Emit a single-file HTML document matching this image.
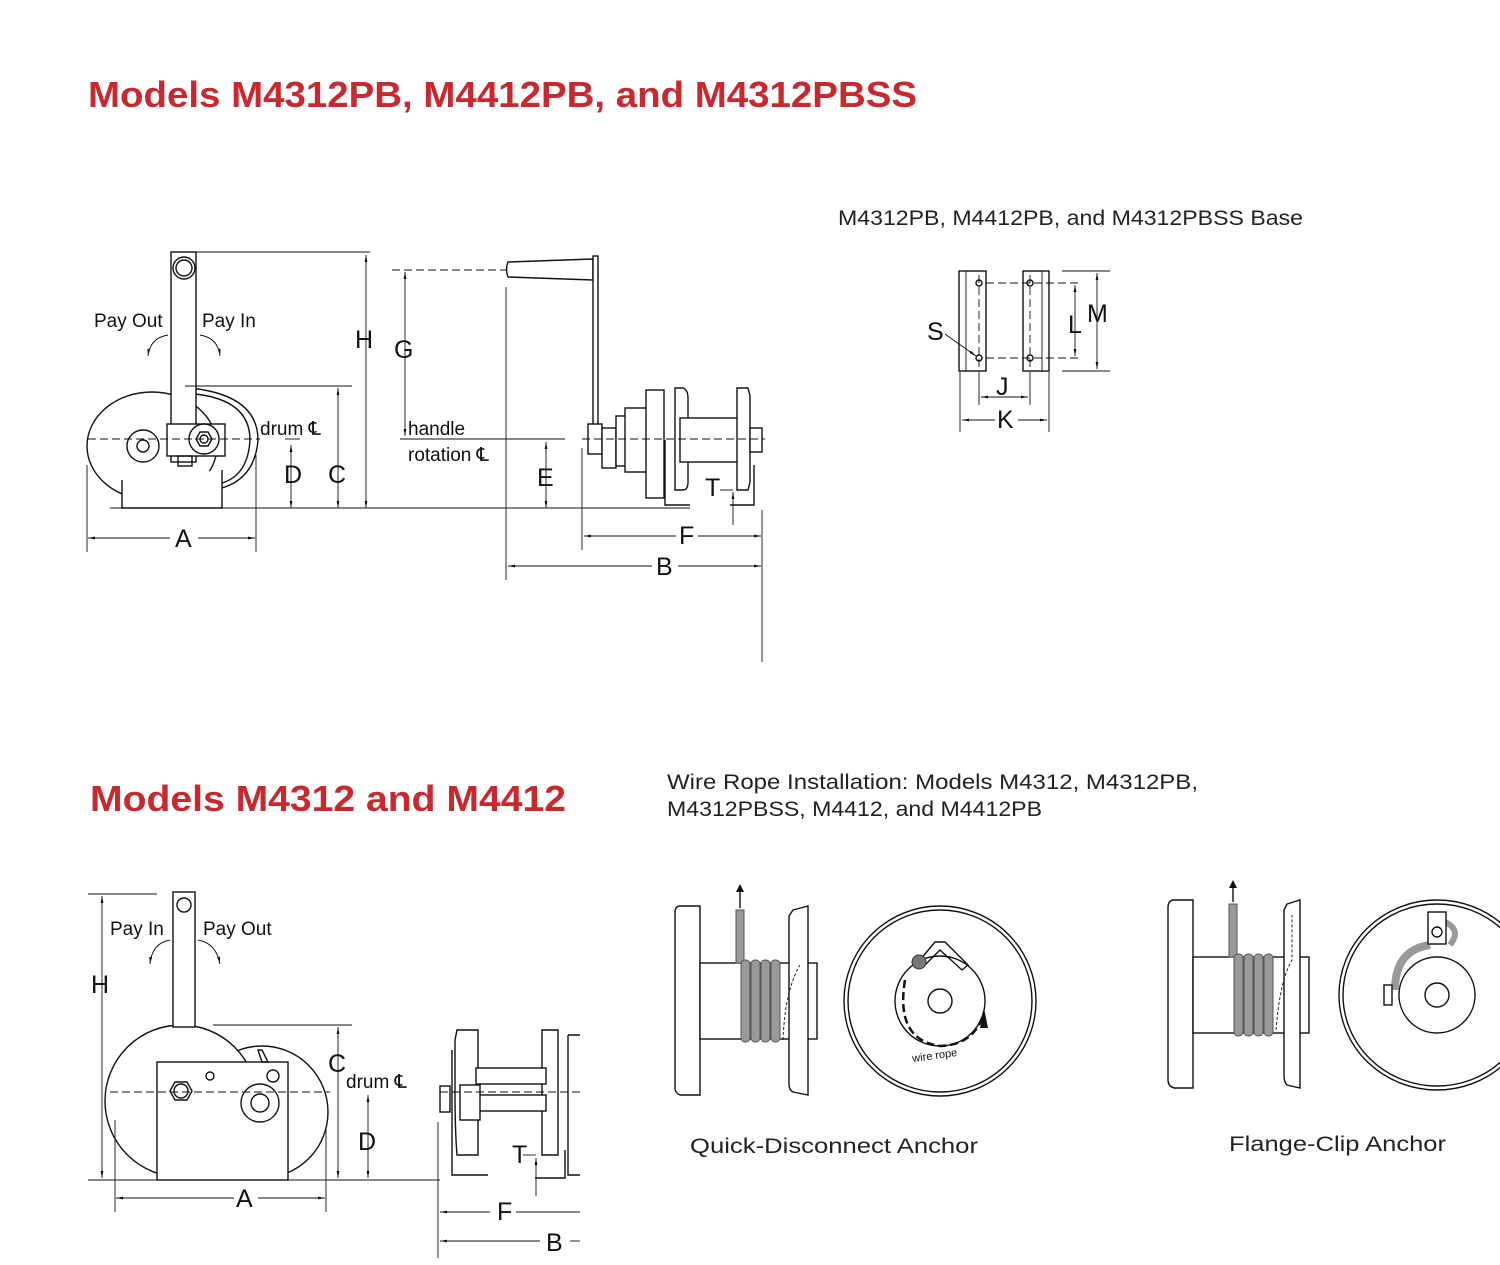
<!DOCTYPE html>
<html><head><meta charset="utf-8"><style>
html,body{margin:0;padding:0;background:#fff;width:1500px;height:1265px;overflow:hidden}
svg{display:block}
text{font-family:"Liberation Sans",sans-serif;fill:#111}
.h{fill:#c8282e;font-weight:bold;font-size:36px}
.c{fill:#222;font-size:21px}
.l{font-size:25px}
.s{font-size:19px}
.k{stroke:#111;stroke-width:1.4;fill:none}
.w{stroke:#111;stroke-width:1.4;fill:#fff}
.t{stroke:#111;stroke-width:0.9;fill:none}
.d{stroke:#111;stroke-width:0.9;fill:none;stroke-dasharray:8 4}
.g{fill:#999;stroke:#555;stroke-width:1}
</style></head><body>
<svg width="1500" height="1265" viewBox="0 0 1500 1265" xmlns="http://www.w3.org/2000/svg">
<defs><marker id="a" viewBox="0 0 10 10" refX="10" refY="5" markerWidth="8" markerHeight="8" orient="auto-start-reverse"><path d="M0,3 L10,5 L0,7z" fill="#111"/></marker></defs>

<text class="h" x="88" y="107" textLength="829" lengthAdjust="spacingAndGlyphs">Models M4312PB, M4412PB, and M4312PBSS</text>
<text class="h" x="90" y="811" textLength="476" lengthAdjust="spacingAndGlyphs">Models M4312 and M4412</text>
<text class="c" x="838" y="225" textLength="465" lengthAdjust="spacingAndGlyphs">M4312PB, M4412PB, and M4312PBSS Base</text>
<text class="c" x="667" y="789" textLength="531" lengthAdjust="spacingAndGlyphs">Wire Rope Installation: Models M4312, M4312PB,</text>
<text class="c" x="667" y="816" textLength="375" lengthAdjust="spacingAndGlyphs">M4312PBSS, M4412, and M4412PB</text>
<text class="c" x="690" y="1153" textLength="288" lengthAdjust="spacingAndGlyphs">Quick-Disconnect Anchor</text>
<text class="c" x="1229" y="1151" textLength="217" lengthAdjust="spacingAndGlyphs">Flange-Clip Anchor</text>

<!-- TOP LEFT winch side view -->
<ellipse class="w" cx="152" cy="446" rx="65" ry="54"/>
<path class="w" d="M122 480 L122 508 L222 508 L222 470"/>
<path class="k" d="M190 388 Q258 395 258 440 Q255 478 222 488"/>
<path class="k" d="M195 394 Q250 400 250 440 Q248 475 222 483"/>
<rect class="w" x="171" y="252" width="25" height="210"/>
<circle class="k" cx="184" cy="268" r="11"/><circle class="k" cx="184" cy="268" r="8"/>
<rect class="w" x="167" y="424" width="58" height="32"/>
<circle class="w" cx="143" cy="446" r="16"/><circle class="k" cx="143" cy="446" r="6"/>
<circle class="w" cx="204" cy="439" r="15"/><polygon class="k" points="196,439 200,432 208,432 212,439 208,446 200,446"/><circle class="k" cx="204" cy="439" r="4"/>
<rect class="k" x="178" y="456" width="14" height="10"/>
<line class="d" x1="88" y1="439" x2="260" y2="439"/>
<text class="s" x="94" y="327">Pay Out</text><text class="s" x="202" y="327">Pay In</text>
<path class="t" d="M168 335 Q150 338 148 356" marker-end="url(#a)"/>
<path class="t" d="M200 335 Q218 338 220 356" marker-end="url(#a)"/>
<text class="s" x="260" y="435">drum ℄</text>
<!-- dims top-left -->
<line class="t" x1="196" y1="252" x2="370" y2="252"/>
<line class="t" x1="185" y1="386" x2="352" y2="386"/>
<line class="t" x1="110" y1="508" x2="600" y2="508"/>
<line class="t" x1="600" y1="508" x2="690" y2="508"/>
<line class="t" x1="366" y1="255" x2="366" y2="508" marker-start="url(#a)" marker-end="url(#a)"/>
<line class="t" x1="338" y1="388" x2="338" y2="508" marker-start="url(#a)" marker-end="url(#a)"/>
<line class="t" x1="291" y1="445" x2="291" y2="508" marker-start="url(#a)" marker-end="url(#a)"/>
<line class="t" x1="285" y1="439" x2="300" y2="439"/>
<text class="l" x="355" y="348">H</text>
<text class="l" x="328" y="483">C</text>
<text class="l" x="284" y="483">D</text>
<line class="t" x1="87" y1="465" x2="87" y2="552"/><line class="t" x1="256" y1="455" x2="256" y2="552"/>
<line class="t" x1="88" y1="538" x2="170" y2="538" marker-start="url(#a)"/><line class="t" x1="198" y1="538" x2="255" y2="538" marker-end="url(#a)"/>
<text class="l" x="175" y="547">A</text>

<!-- handle & side view top -->
<line class="d" x1="392" y1="270" x2="510" y2="270"/>
<path class="w" d="M508 262 L593 259 L593 280 L508 277 Q505 270 508 262z"/>
<rect class="w" x="593" y="256" width="5" height="170"/>
<line class="t" x1="405" y1="272" x2="405" y2="436" marker-start="url(#a)" marker-end="url(#a)"/>
<text class="l" x="394" y="358">G</text>
<text class="s" x="408" y="435">handle</text><text class="s" x="408" y="461">rotation ℄</text>
<line class="t" x1="400" y1="439" x2="565" y2="439"/>
<line class="t" x1="546" y1="442" x2="546" y2="508" marker-start="url(#a)" marker-end="url(#a)"/>
<text class="l" x="537" y="486">E</text>
<line class="t" x1="506" y1="287" x2="506" y2="580"/>
<rect class="w" x="588" y="424" width="14" height="30"/>
<rect class="w" x="602" y="428" width="14" height="40"/>
<rect class="w" x="616" y="416" width="18" height="50"/>
<rect class="w" x="625" y="408" width="22" height="64"/>
<rect class="w" x="646" y="390" width="18" height="108"/>
<path class="w" d="M675 388 L683 388 Q688 390 688 398 L688 482 Q688 490 683 490 L675 490z"/>
<rect class="w" x="680" y="418" width="60" height="44"/>
<path class="w" d="M737 388 L748 388 L750 396 L750 482 L748 490 L737 490z"/>
<rect class="w" x="750" y="428" width="12" height="24"/>
<path class="k" d="M665 440 L665 505 L690 505"/>
<path class="k" d="M754 465 L754 505 L730 505"/>
<line class="d" x1="582" y1="439" x2="765" y2="439"/>
<line class="t" x1="582" y1="448" x2="582" y2="550"/>
<line class="t" x1="762" y1="510" x2="762" y2="662"/>
<text class="l" x="705" y="496">T</text>
<line class="t" x1="720" y1="490" x2="733" y2="490"/>
<line class="t" x1="733" y1="492" x2="733" y2="525" marker-start="url(#a)"/>
<line class="t" x1="584" y1="536" x2="676" y2="536" marker-start="url(#a)"/><line class="t" x1="698" y1="536" x2="761" y2="536" marker-end="url(#a)"/>
<text class="l" x="679" y="544">F</text>
<line class="t" x1="508" y1="566" x2="652" y2="566" marker-start="url(#a)"/><line class="t" x1="678" y1="566" x2="761" y2="566" marker-end="url(#a)"/>
<text class="l" x="656" y="575">B</text>

<!-- base -->
<rect class="w" x="959" y="271" width="27" height="100"/>
<rect class="w" x="1023" y="271" width="26" height="100"/>
<line class="t" x1="966" y1="271" x2="966" y2="371"/><line class="t" x1="1042" y1="271" x2="1042" y2="371"/>
<line class="d" x1="979" y1="275" x2="979" y2="368"/><line class="d" x1="1030" y1="275" x2="1030" y2="368"/>
<circle class="k" cx="979" cy="283" r="3"/><circle class="k" cx="979" cy="358" r="3"/>
<circle class="k" cx="1030" cy="283" r="3"/><circle class="k" cx="1030" cy="358" r="3"/>
<line class="d" x1="986" y1="283" x2="1082" y2="283"/><line class="d" x1="986" y1="358" x2="1082" y2="358"/>
<line class="t" x1="1062" y1="271" x2="1110" y2="271"/><line class="t" x1="1062" y1="371" x2="1110" y2="371"/>
<line class="t" x1="1075" y1="285" x2="1075" y2="356" marker-start="url(#a)" marker-end="url(#a)"/>
<line class="t" x1="1097" y1="273" x2="1097" y2="369" marker-start="url(#a)" marker-end="url(#a)"/>
<text class="l" x="1068" y="333">L</text><text class="l" x="1087" y="322">M</text>
<text class="l" x="927" y="340">S</text>
<line class="t" x1="945" y1="334" x2="976" y2="356" marker-end="url(#a)"/>
<line class="t" x1="979" y1="372" x2="979" y2="405"/><line class="t" x1="1030" y1="372" x2="1030" y2="405"/>
<line class="t" x1="981" y1="397" x2="1028" y2="397" marker-start="url(#a)" marker-end="url(#a)"/>
<text class="l" x="996" y="395">J</text>
<line class="t" x1="960" y1="372" x2="960" y2="432"/><line class="t" x1="1049" y1="372" x2="1049" y2="432"/>
<line class="t" x1="962" y1="420" x2="995" y2="420" marker-start="url(#a)"/><line class="t" x1="1018" y1="420" x2="1047" y2="420" marker-end="url(#a)"/>
<text class="l" x="997" y="428">K</text>

<!-- BOTTOM LEFT -->
<circle class="w" cx="262" cy="1112" r="66"/>
<circle class="w" cx="181" cy="1101" r="76"/>
<rect class="w" x="173" y="892" width="22" height="135"/>
<circle class="k" cx="184" cy="905" r="7"/>
<rect class="w" x="157" y="1062" width="131" height="118"/>
<polygon class="k" points="170,1091 175,1082 187,1082 192,1091 187,1100 175,1100"/><circle class="k" cx="181" cy="1091" r="7"/>
<circle class="k" cx="210" cy="1076" r="4"/>
<circle class="k" cx="260" cy="1103" r="19"/><circle class="k" cx="260" cy="1103" r="9"/>
<circle class="k" cx="273" cy="1076" r="6"/>
<path class="k" d="M258 1050 L262 1062 L268 1062 L262 1050z"/>
<line class="d" x1="110" y1="1092" x2="330" y2="1092"/>
<text class="s" x="110" y="935">Pay In</text><text class="s" x="203" y="935">Pay Out</text>
<path class="t" d="M170 940 Q152 943 150 964" marker-end="url(#a)"/>
<path class="t" d="M198 940 Q216 943 220 964" marker-end="url(#a)"/>
<line class="t" x1="88" y1="894" x2="157" y2="894"/>
<line class="t" x1="102" y1="896" x2="102" y2="1178" marker-start="url(#a)" marker-end="url(#a)"/>
<text class="l" x="91" y="993">H</text>
<line class="t" x1="88" y1="1180" x2="440" y2="1180"/>
<line class="t" x1="213" y1="1025" x2="352" y2="1025"/>
<line class="t" x1="338" y1="1027" x2="338" y2="1178" marker-start="url(#a)" marker-end="url(#a)"/>
<text class="l" x="328" y="1072">C</text>
<text class="s" x="346" y="1088">drum ℄</text>
<line class="t" x1="368" y1="1095" x2="368" y2="1178" marker-start="url(#a)" marker-end="url(#a)"/>
<text class="l" x="358" y="1150">D</text>
<line class="t" x1="115" y1="1120" x2="115" y2="1212"/><line class="t" x1="326" y1="1128" x2="326" y2="1212"/>
<line class="t" x1="116" y1="1198" x2="234" y2="1198" marker-start="url(#a)"/><line class="t" x1="258" y1="1198" x2="325" y2="1198" marker-end="url(#a)"/>
<text class="l" x="236" y="1207">A</text>

<!-- bottom side view -->
<path class="k" d="M457 1030 L478 1030 L478 1155 L457 1155 Q455 1130 455 1092 L455 1040z"/>
<path class="k" d="M542 1030 L558 1030 L558 1155 L542 1155z"/>
<path class="k" d="M568 1035 L580 1035 M568 1035 L568 1175 L580 1175"/>
<rect class="w" x="476" y="1068" width="70" height="16"/>
<rect class="w" x="478" y="1095" width="68" height="16"/>
<rect class="w" x="460" y="1085" width="20" height="35"/>
<rect class="w" x="440" y="1086" width="10" height="26"/>
<line class="d" x1="440" y1="1092" x2="580" y2="1092"/>
<path class="k" d="M452 1050 L452 1175 L488 1175"/>
<path class="k" d="M565 1150 L565 1178 L535 1178"/>
<line class="t" x1="438" y1="1122" x2="438" y2="1258"/>
<text class="l" x="512" y="1163">T</text>
<line class="t" x1="523" y1="1155" x2="536" y2="1155"/><line class="t" x1="536" y1="1158" x2="536" y2="1196" marker-start="url(#a)"/>
<line class="t" x1="440" y1="1212" x2="490" y2="1212" marker-start="url(#a)"/><line class="t" x1="516" y1="1212" x2="580" y2="1212"/>
<text class="l" x="497" y="1220">F</text>
<line class="t" x1="440" y1="1241" x2="540" y2="1241" marker-start="url(#a)"/><line class="t" x1="570" y1="1241" x2="580" y2="1241"/>
<text class="l" x="546" y="1251">B</text>

<!-- Quick disconnect -->
<path class="w" d="M680 906 L700 906 L700 1095 L680 1095 Q675 1093 675 1088 L675 913 Q675 906 680 906z"/>
<rect class="w" x="700" y="963" width="117" height="76"/>
<path class="w" d="M793 910 L808 906 L808 1095 L793 1092 Q789 1090 789 1084 L789 916z"/>
<rect x="736" y="910" width="8" height="53" fill="#999" stroke="#555"/>
<line class="k" x1="740" y1="908" x2="740" y2="890"/><path d="M736 892 L740 884 L744 892z" fill="#111"/>
<g fill="#999" stroke="#555"><rect x="741" y="960" width="9" height="82" rx="4"/><rect x="751" y="960" width="9" height="82" rx="4"/><rect x="761" y="960" width="9" height="82" rx="4"/><rect x="771" y="960" width="9" height="82" rx="4"/></g>
<path class="t" d="M783 1040 Q785 990 800 965" stroke-dasharray="3 2"/>
<ellipse class="k" cx="940" cy="1001" rx="96" ry="95"/><ellipse class="k" cx="940" cy="1001" rx="92" ry="91"/>
<circle class="k" cx="940" cy="1001" r="45"/><circle class="k" cx="940" cy="1001" r="12"/>
<path class="k" d="M920 960 L935 942 L945 942 L968 965 L962 970 L940 950 L925 965z"/>
<circle cx="919" cy="962" r="7" fill="#777" stroke="#333"/>
<path d="M905 980 Q895 1040 940 1046 Q975 1045 984 1012" stroke="#111" stroke-width="2.5" fill="none" stroke-dasharray="8 4"/>
<path d="M980 1028 L984 1008 L988 1028z" fill="#111"/>
<text x="912" y="1059" font-size="11" transform="rotate(-8 935 1055)">wire rope</text>

<!-- Flange clip -->
<path class="w" d="M1174 900 L1193 900 L1193 1088 L1174 1088 Q1168 1086 1168 1080 L1168 908 Q1168 900 1174 900z"/>
<rect class="w" x="1193" y="957" width="116" height="76"/>
<path class="w" d="M1287 904 L1300 900 L1300 1088 L1287 1085 Q1284 1082 1284 1075 L1284 910z"/>
<rect x="1229" y="904" width="8" height="53" fill="#999" stroke="#555"/>
<line class="k" x1="1233" y1="902" x2="1233" y2="886"/><path d="M1229 888 L1233 880 L1237 888z" fill="#111"/>
<g fill="#999" stroke="#555"><rect x="1234" y="954" width="9" height="82" rx="4"/><rect x="1244" y="954" width="9" height="82" rx="4"/><rect x="1254" y="954" width="9" height="82" rx="4"/><rect x="1264" y="954" width="9" height="82" rx="4"/></g>
<path class="t" d="M1276 1030 Q1280 980 1292 960 L1292 915" stroke-dasharray="3 2"/>
<ellipse class="k" cx="1437" cy="995" rx="98" ry="95"/><ellipse class="k" cx="1437" cy="995" rx="94" ry="91"/>
<circle class="k" cx="1437" cy="995" r="38"/><circle class="k" cx="1437" cy="995" r="12"/>
<path d="M1395 990 Q1395 950 1430 945" stroke="#999" stroke-width="8" fill="none"/>
<path d="M1445 922 Q1462 930 1450 945" stroke="#999" stroke-width="6" fill="none"/>
<rect class="w" x="1428" y="912" width="18" height="32"/><circle class="k" cx="1437" cy="932" r="5"/>
<rect class="w" x="1384" y="985" width="8" height="20"/>
</svg>
</body></html>
